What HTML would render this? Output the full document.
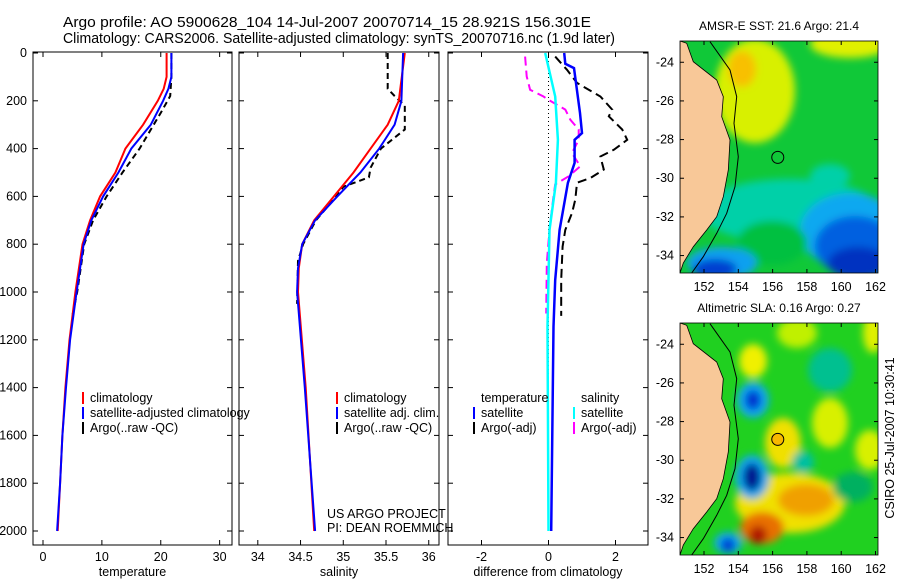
<!DOCTYPE html>
<html><head><meta charset="utf-8">
<style>
html,body{margin:0;padding:0;background:#fff;}
svg{display:block;font-family:"Liberation Sans",sans-serif;}
</style></head>
<body>
<svg id="fig" width="900" height="580" viewBox="0 0 900 580" xmlns="http://www.w3.org/2000/svg">
<defs>
<filter id="bl" x="-50%" y="-50%" width="200%" height="200%"><feGaussianBlur stdDeviation="4"/></filter>
<clipPath id="c1"><rect x="680" y="41" width="198" height="232"/></clipPath>
<clipPath id="c2"><rect x="680" y="323" width="198" height="232"/></clipPath>
</defs>
<text x="63" y="27" font-size="15" textLength="528" lengthAdjust="spacingAndGlyphs">Argo profile: AO 5900628_104 14-Jul-2007 20070714_15 28.921S 156.301E</text>
<text x="63" y="43" font-size="15" textLength="552" lengthAdjust="spacingAndGlyphs">Climatology: CARS2006. Satellite-adjusted climatology: synTS_20070716.nc (1.9d later)</text>
</svg>
<script>
// ---- depth axis ----
const depthTicks=[0,200,400,600,800,1000,1200,1400,1600,1800,2000];
// ---- temperature panel ----
const tTicks=[0,10,20,30];
const tClimDepth=[0,100,150,200,300,400,500,600,700,800,1000,1200,1400,1600,1800,2000];
const tClim=[21.0,21.0,20.5,19.5,17.0,14.0,12.3,9.7,8.0,6.7,5.5,4.5,3.8,3.3,2.9,2.5];
const tSat=[21.8,21.8,21.3,20.4,18.3,15.0,12.8,10.2,8.2,6.9,5.7,4.6,3.9,3.3,2.9,2.4];
const tArgoDepth=[0,100,180,250,300,400,500,600,700,800,1000,1100];
const tArgo=[21.8,21.8,21.6,20.0,18.8,16.4,13.5,10.8,8.5,7.0,5.8,5.0];
// ---- salinity panel ----
const sTicks=[34,34.5,35,35.5,36];
const sClimDepth=[0,200,300,400,500,600,700,800,900,1000,1400,2000];
const sClim=[35.72,35.65,35.52,35.32,35.12,34.89,34.66,34.52,34.48,34.47,34.56,34.66];
const sSat=[35.70,35.68,35.60,35.42,35.20,34.93,34.67,34.52,34.47,34.46,34.55,34.67];
const sArgoDepth=[0,150,180,220,320,400,480,520,560,600,700,800,870,1050];
const sArgo=[35.52,35.52,35.60,35.72,35.72,35.44,35.32,35.30,35.00,34.92,34.68,34.53,34.47,34.46];
// ---- difference panel ----
const dTicks=[-2,0,2];
const dTempSatDepth=[0,45,63,251,335,363,460,543,740,950,1145,2000];
const dTempSat=[0.47,0.5,0.76,0.94,1.0,0.78,0.78,0.58,0.33,0.2,0.15,0.08];
const dTempArgoDepth=[15,70,125,182,237,265,320,363,405,433,488,523,543,613,670,740,810,950,1100];
const dTempArgo=[0.2,0.55,0.85,1.55,1.9,1.8,2.2,2.35,1.95,1.55,1.65,1.25,0.85,0.8,0.7,0.5,0.42,0.38,0.38];
const dSalSatDepth=[0,182,363,543,740,1145,2000];
const dSalSat=[-0.1,0.2,0.28,0.22,0.03,-0.03,0.0];
const dSalArgoDepth=[15,98,154,182,196,237,279,320,363,419,474,516,550,599,740,880,1090];
const dSalArgo=[-0.7,-0.65,-0.55,-0.15,0,0.5,0.65,0.9,0.9,0.7,0.95,0.6,0.2,0.15,0.03,-0.05,-0.07];

const svg=document.getElementById('fig');
const NS='http://www.w3.org/2000/svg';
function mk(tag,attrs,parent){const e=document.createElementNS(NS,tag);for(const k in attrs)e.setAttribute(k,attrs[k]);(parent||svg).appendChild(e);return e;}
const Y0=53,YS=478/2000;
function yD(d){return Y0+d*YS;}
const panels=[
 {x0:33,x1:232,lo:-1.7,hi:32.1,ticks:tTicks,lab:'temperature',name:'temperature-panel'},
 {x0:239,x1:439,lo:33.78,hi:36.12,ticks:sTicks,lab:'salinity',name:'salinity-panel'},
 {x0:448,x1:648,lo:-3.0,hi:2.97,ticks:dTicks,lab:'difference from climatology',name:'difference-panel'}
];
panels.forEach(p=>{p.sx=v=>p.x0+(v-p.lo)/(p.hi-p.lo)*(p.x1-p.x0);});
function line(p,vals,depths,color,w,dash,name){
  const pts=vals.map((v,i)=>p.sx(v).toFixed(1)+','+yD(depths[i]).toFixed(1)).join(' ');
  const e=mk('polyline',{points:pts,fill:'none',stroke:color,'stroke-width':w});
  if(dash)e.setAttribute('stroke-dasharray',dash);
  
  
}
panels.forEach((p,pi)=>{
  const g=mk('g',{});
  
  
  mk('rect',{x:p.x0,y:52,width:p.x1-p.x0,height:493,fill:'none',stroke:'#000','stroke-width':1},g);
  p.ticks.forEach(t=>{
    const x=p.sx(t);
    mk('line',{x1:x,x2:x,y1:52,y2:57,stroke:'#000'},g);
    mk('line',{x1:x,x2:x,y1:545,y2:540,stroke:'#000'},g);
    const tx=mk('text',{x:x,y:561,'font-size':12.5,'text-anchor':'middle'},g);tx.textContent=String(t);
    
    
  });
  depthTicks.forEach(d=>{
    const y=yD(d);
    mk('line',{x1:p.x0,x2:p.x0+5,y1:y,y2:y,stroke:'#000'},g);
    mk('line',{x1:p.x1,x2:p.x1-5,y1:y,y2:y,stroke:'#000'},g);
    if(pi===0){const tx=mk('text',{x:27,y:y+4,'font-size':12.5,'text-anchor':'end'},g);tx.textContent=String(d);
      
      }
  });
  const lb=mk('text',{x:(p.x0+p.x1)/2,y:576,'font-size':12.5,'text-anchor':'middle'},g);lb.textContent=p.lab;
  
  
});
const P1=panels[0],P2=panels[1],P3=panels[2];
line(P1,tArgo,tArgoDepth,'#000',2,'6,4','temp-argo-line');
line(P1,tClim,tClimDepth,'#f00',2,null,'temp-climatology-line');
line(P1,tSat,tClimDepth,'#00f',2,null,'temp-satellite-line');
line(P2,sArgo,sArgoDepth,'#000',2,'6,4','sal-argo-line');
line(P2,sClim,sClimDepth,'#f00',2,null,'sal-climatology-line');
line(P2,sSat,sClimDepth,'#00f',2,null,'sal-satellite-line');
{const e=mk('line',{x1:P3.sx(0),x2:P3.sx(0),y1:yD(0),y2:yD(2000),stroke:'#000','stroke-width':1,'stroke-dasharray':'1,3'});
 
 }
line(P3,dTempArgo,dTempArgoDepth,'#000',2,'9,5','diff-temp-argo-line');
line(P3,dSalArgo,dSalArgoDepth,'#f0f',2,'9,5','diff-sal-argo-line');
line(P3,dTempSat,dTempSatDepth,'#00f',2.5,null,'diff-temp-satellite-line');
line(P3,dSalSat,dSalSatDepth,'#0ff',2.5,null,'diff-sal-satellite-line');

function legend(x,y,color,label,name){
  const g=mk('g',{});
  
  
  if(color)mk('line',{x1:x,x2:x,y1:y-10,y2:y+2,stroke:color,'stroke-width':2},g);
  const t=mk('text',{x:x+7,y:y,'font-size':12.5},g);t.textContent=label;
}
legend(83,402,'#f00','climatology','legend-climatology');
legend(83,417,'#00f','satellite-adjusted climatology','legend-satellite-adjusted');
legend(83,432,'#000','Argo(..raw -QC)','legend-argo');
legend(337,402,'#f00','climatology','legend-climatology-sal');
legend(337,417,'#00f','satellite adj. clim.','legend-satellite-sal');
legend(337,432,'#000','Argo(..raw -QC)','legend-argo-sal');
legend(474,402,null,'temperature','legend-header-temperature');
legend(574,402,null,'salinity','legend-header-salinity');
legend(474,417,'#00f','satellite','legend-temp-satellite');
legend(474,432,'#000','Argo(-adj)','legend-temp-argo');
legend(574,417,'#0ff','satellite','legend-sal-satellite');
legend(574,432,'#f0f','Argo(-adj)','legend-sal-argo');
{const t=mk('text',{x:327,y:518,'font-size':12.5});t.textContent='US ARGO PROJECT';
 
 
 const t2=mk('text',{x:327,y:532,'font-size':12.5});t2.textContent='PI: DEAN ROEMMICH';
 
 }

// ---- maps ----
const coast=[[680,0],[686.7,2.3],[693.3,20.7],[716.7,39],[723.3,55.7],[721.7,75.7],[730,99],[728.3,129],[723.3,155.7],[716.7,175.7],[706.7,189],[693.3,205.7],[683.3,222],[680,232]];
const shelf=[[710,0.7],[730,29],[736.7,55.7],[734,82.3],[738.3,115.7],[735,145.7],[726.7,172.3],[716.7,192.3],[703.3,215.7],[691.7,232]];
const map1=[['#d8f000',755,50,40,52],['#f8c000',742,28,14,18],['#e0f000',850,3,40,14],['#00d0a8',790,170,90,32],['#10a8f0',850,190,50,38],['#0060e0',855,205,40,30],['#0030c0',858,222,30,16],['#00c040',772,202,35,22],['#10a0f0',722,222,35,16],['#0040d0',715,228,22,10],['#00d0a8',830,135,20,12]];
const map2=[['#f0e000',790,180,55,30],['#f0a000',806,177,28,16],['#e87000',762,205,22,16],['#b01800',758,212,9,9],['#f0f000',753,38,14,17],['#10a8f0',753,77,16,18],['#0030d0',753,77,8,10],['#10a8f0',752,154,17,22],['#001890',752,154,9,14],['#f0e000',783,120,18,25],['#10a8f0',728,220,14,11],['#0030d0',728,222,7,7],['#00c090',830,47,22,22],['#d8f000',830,100,18,25],['#00c0a0',803,139,11,11],['#d8f000',870,127,15,20],['#00b060',853,164,20,15],['#c0f000',797,10,20,15],['#e0f000',873,10,10,20]];
const lonTicks=[152,154,156,158,160,162];
const latTicks=[-24,-26,-28,-30,-32,-34];
function lonX(l){return 680+(l-150.6)*17.15;}
function latY(l,y0){return y0+(-22.9-l)*19.33;}
function drawMap(y0,clip,blobs,base,title,name,argoFill){
  const g=mk('g',{});
  
  
  const t=mk('text',{x:779,y:y0-11,'font-size':12,'text-anchor':'middle'},g);t.textContent=title;
  
  
  const c=mk('g',{'clip-path':'url(#'+clip+')'},g);
  mk('rect',{x:680,y:y0,width:198,height:232,fill:base},c);
  const bg=mk('g',{filter:'url(#bl)'},c);
  blobs.forEach(b=>mk('ellipse',{cx:b[1],cy:y0+b[2],rx:b[3],ry:b[4],fill:b[0]},bg));
  const land=coast.map(p=>p[0]+','+(y0+p[1])).join(' ')+' 680,'+(y0+232)+' 680,'+y0;
  const lp=mk('polygon',{points:land,fill:'#f8c898',stroke:'#000','stroke-width':0.8},c);
  
  
  mk('polyline',{points:shelf.map(p=>p[0]+','+(y0+p[1])).join(' '),fill:'none',stroke:'#000','stroke-width':1},c);
  mk('rect',{x:680,y:y0,width:198,height:232,fill:'none',stroke:'#000','stroke-width':0.8},g);
  lonTicks.forEach(l=>{const x=lonX(l);
    mk('line',{x1:x,x2:x,y1:y0,y2:y0+4,stroke:'#000'},g);
    mk('line',{x1:x,x2:x,y1:y0+232,y2:y0+228,stroke:'#000'},g);
    const tx=mk('text',{x:x,y:y0+250,'font-size':12.5,'text-anchor':'middle'},g);tx.textContent=String(l);});
  latTicks.forEach(l=>{const y=latY(l,y0);
    mk('line',{x1:680,x2:684,y1:y,y2:y,stroke:'#000'},g);
    mk('line',{x1:878,x2:874,y1:y,y2:y,stroke:'#000'},g);
    const tx=mk('text',{x:674,y:y+4,'font-size':12.5,'text-anchor':'end'},g);tx.textContent=String(l);});
  const ac=mk('circle',{cx:lonX(156.301),cy:latY(-28.921,y0),r:6,fill:argoFill,stroke:'#000','stroke-width':1},g);
  
  
}
drawMap(41,'c1',map1,'#10c838','AMSR-E SST: 21.6 Argo: 21.4','sst-map','none');
drawMap(323,'c2',map2,'#20d020','Altimetric SLA: 0.16 Argo: 0.27','sla-map','#f8b800');
{const t=mk('text',{x:0,y:0,'font-size':12.5,'text-anchor':'middle',transform:'translate(894,438) rotate(-90)'});
 t.textContent='CSIRO 25-Jul-2007 10:30:41';
 
 }
</script>
</body></html>
